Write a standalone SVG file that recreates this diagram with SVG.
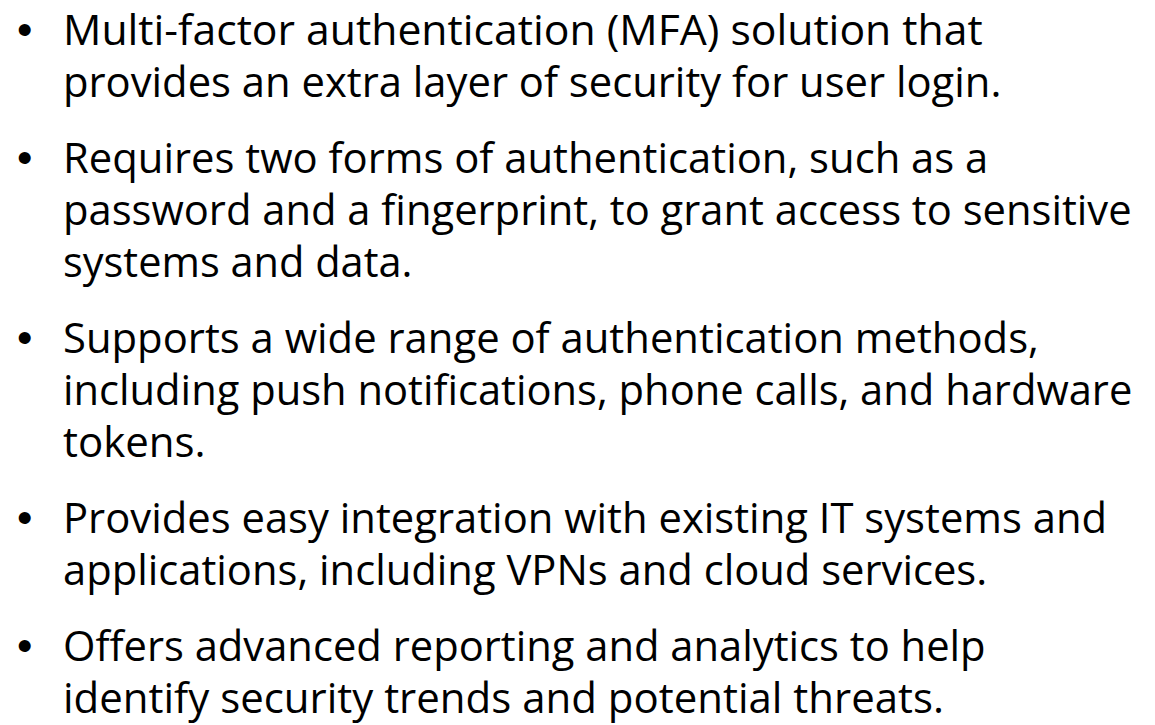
<svg xmlns="http://www.w3.org/2000/svg" width="1155" height="725" viewBox="0 0 1155 725">
  <style>
    .t { font-family: "Open Sans", "Liberation Sans", sans-serif; font-size: 41.5px; fill: #000; }
    .b { font-family: "Liberation Sans", Arial, sans-serif; font-size: 44px; fill: #000; }
  </style>
  <rect width="1155" height="725" fill="#fff"/>

  <!-- bullet list: one group per item; line pitch 52, paragraph step 76 -->
  <g id="item-mfa">
    <text class="b" x="17" y="44.5">•</text>
    <text class="t" x="63" y="44.5" textLength="919.7" lengthAdjust="spacingAndGlyphs">Multi-factor authentication (MFA) solution that</text>
    <text class="t" x="63" y="96.5" textLength="938.4" lengthAdjust="spacingAndGlyphs">provides an extra layer of security for user login.</text>
  </g>

  <g id="item-two-forms">
    <text class="b" x="17" y="172.5">•</text>
    <text class="t" x="63" y="172.5" textLength="925.3" lengthAdjust="spacingAndGlyphs">Requires two forms of authentication, such as a</text>
    <text class="t" x="63" y="224.5" textLength="1068.6" lengthAdjust="spacingAndGlyphs">password and a fingerprint, to grant access to sensitive</text>
    <text class="t" x="63" y="276.5" textLength="349.4" lengthAdjust="spacingAndGlyphs">systems and data.</text>
  </g>

  <g id="item-methods">
    <text class="b" x="17" y="352.5">•</text>
    <text class="t" x="63" y="352.5" textLength="975.9" lengthAdjust="spacingAndGlyphs">Supports a wide range of authentication methods,</text>
    <text class="t" x="63" y="404.5" textLength="1069.3" lengthAdjust="spacingAndGlyphs">including push notifications, phone calls, and hardware</text>
    <text class="t" x="63" y="456.5" textLength="142.6" lengthAdjust="spacingAndGlyphs">tokens.</text>
  </g>

  <g id="item-integration">
    <text class="b" x="17" y="533">•</text>
    <text class="t" x="63" y="533" textLength="1044.1" lengthAdjust="spacingAndGlyphs">Provides easy integration with existing IT systems and</text>
    <text class="t" x="63" y="585" textLength="924.2" lengthAdjust="spacingAndGlyphs">applications, including VPNs and cloud services.</text>
  </g>

  <g id="item-reporting">
    <text class="b" x="17" y="661">•</text>
    <text class="t" x="63" y="661" textLength="922.6" lengthAdjust="spacingAndGlyphs">Offers advanced reporting and analytics to help</text>
    <text class="t" x="63" y="712.8" textLength="881.0" lengthAdjust="spacingAndGlyphs">identify security trends and potential threats.</text>
  </g>

  <!-- no connectors in this list -->
  <g id="connectors"/>
</svg>
